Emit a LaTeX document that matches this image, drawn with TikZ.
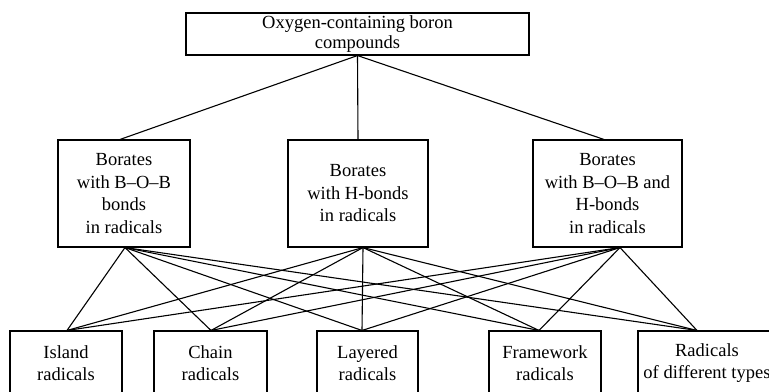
\documentclass[tikz,border=0pt]{standalone}
\usepackage{fontspec}
\setmainfont{Liberation Serif}
\begin{document}
\begin{tikzpicture}[x=1bp,y=-1bp,
  box/.style={draw, line width=1.1bp, inner sep=0pt, align=center,
    font=\fontsize{18.5bp}{22.5bp}\selectfont},
  link/.style={line width=1.1bp}]
\useasboundingbox (0,0) rectangle (769,391);
\begin{scope}
\clip (0,0) rectangle (769,391);
% top level
\node[box, minimum width=343bp, minimum height=42bp] (top) at (357.5,34)
  {Oxygen-containing boron\\[-2.5bp]compounds};
% middle level
\node[box, minimum width=132bp, minimum height=107bp] (bob) at (124,193.5)
  {Borates\\with B--O--B\\bonds\\in radicals};
\node[box, minimum width=140bp, minimum height=107bp] (hb) at (358,193.5)
  {Borates\\with H-bonds\\in radicals};
\node[box, minimum width=149bp, minimum height=107bp] (both) at (607.5,193.5)
  {Borates\\with B--O--B and\\H-bonds\\in radicals};
% bottom level
\node[box, minimum width=112bp, minimum height=64bp] (isl) at (66,363)
  {Island\\radicals};
\node[box, minimum width=113bp, minimum height=64bp] (chn) at (210.5,363)
  {Chain\\radicals};
\node[box, minimum width=101bp, minimum height=64bp] (lay) at (367.5,363)
  {Layered\\radicals};
\node[box, minimum width=112bp, minimum height=64bp] (frm) at (545,363)
  {Framework\\radicals};
\node[box, minimum width=138bp, minimum height=64bp] (dif) at (707,363)
  {Radicals\\of different types};
% top to middle
\draw[link] (top.south) -- ([xshift=-4bp]bob.north);
\draw[link] (top.south) -- (hb.north);
\draw[link] (top.south) -- ([xshift=-3.5bp]both.north);
% middle to bottom
\foreach \m/\ms in {bob/1, hb/5, both/12.5}{
  \draw[link] ([xshift=\ms bp]\m.south) -- ([xshift=1bp]isl.north);
  \draw[link] ([xshift=\ms bp]\m.south) -- ([xshift=0.5bp]chn.north);
  \draw[link] ([xshift=\ms bp]\m.south) -- ([xshift=-5.5bp]lay.north);
  \draw[link] ([xshift=\ms bp]\m.south) -- ([xshift=-6bp]frm.north);
  \draw[link] ([xshift=\ms bp]\m.south) -- ([xshift=-10bp]dif.north);
}
\end{scope}
\end{tikzpicture}
\end{document}
